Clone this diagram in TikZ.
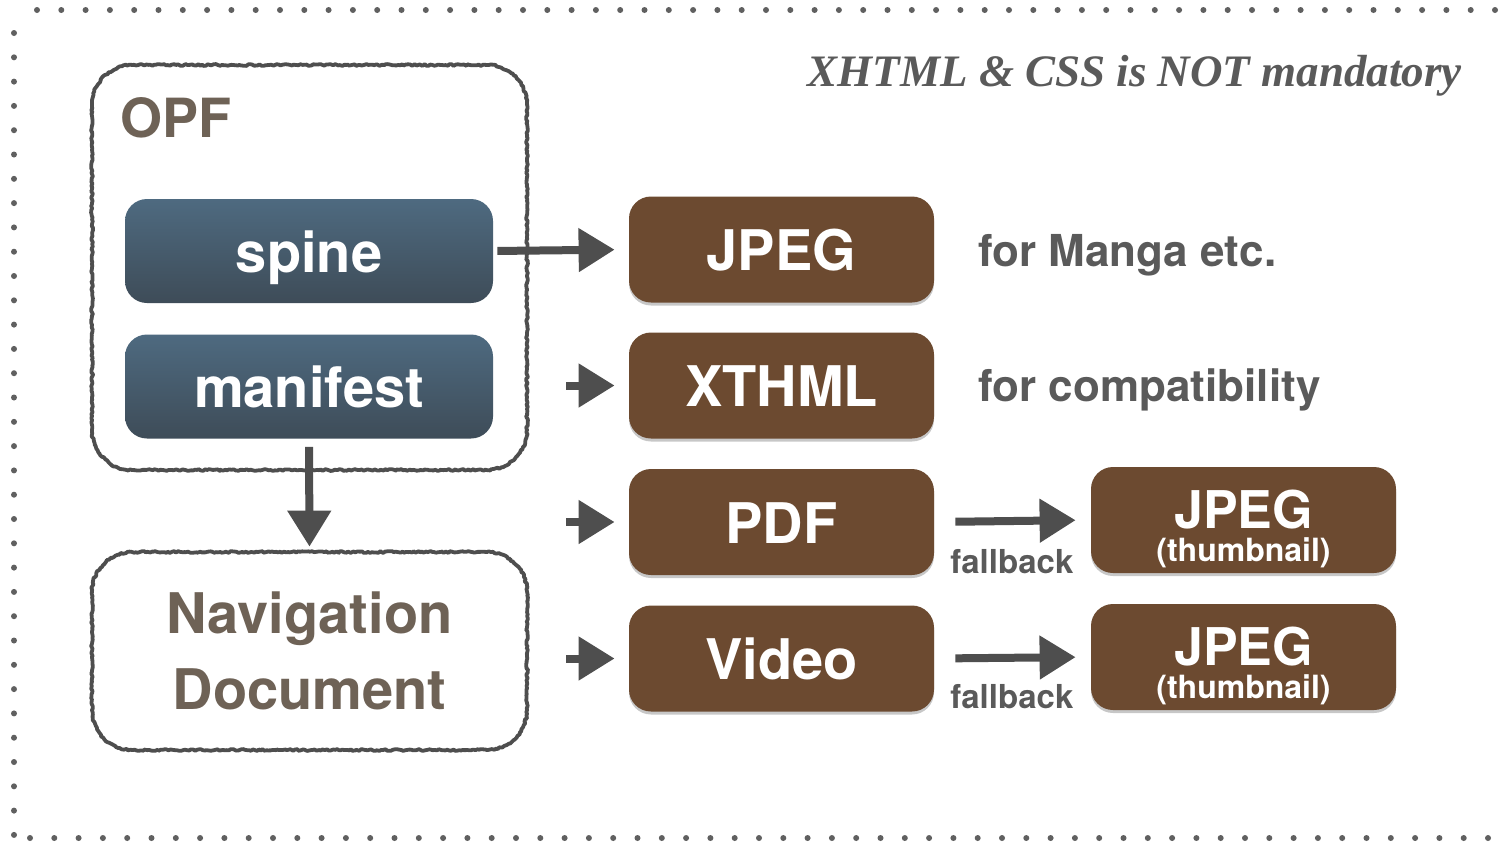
\documentclass[tikz,border=0pt]{standalone}
\usepackage{fontspec}
\setmainfont{TeX Gyre Heros}
\newfontfamily\titlefont{Liberation Serif}
\usetikzlibrary{arrows.meta,decorations.pathmorphing,shadows,calc}
\definecolor{sketchgray}{RGB}{78,78,78}
\definecolor{arrowgray}{RGB}{78,78,78}
\definecolor{opfbrown}{RGB}{110,98,86}
\definecolor{textgray}{RGB}{90,90,90}
\definecolor{woodbrown}{RGB}{108,74,48}
\definecolor{bluetop}{RGB}{78,106,128}
\definecolor{bluebot}{RGB}{62,76,88}
\definecolor{dotgray}{RGB}{96,96,96}
\newcommand\thumbtxt{\vbox{%
  \hbox to 90pt{\hss\rule{0pt}{27.5pt}\smash{\fontsize{26}{26}\selectfont JPEG}\hss}%
  \nointerlineskip
  \hbox to 90pt{\hss\rule[-3pt]{0pt}{19.5pt}\smash{\fontsize{16}{16}\selectfont(thumbnail)}\hss}}}
\begin{document}
\pgfmathsetseed{7}
\begin{tikzpicture}[x=0.5pt,y=-0.5pt,
  dotline/.style={draw=dotgray,line width=3pt,line cap=round,dash pattern=on 0pt off 12.15pt},
  sketchline/.style={draw=sketchgray,line width=1.9pt,line join=round,
    decoration={random steps,segment length=1pt,amplitude=0.45pt}},
  plainbox/.style={inner sep=0pt},
  bluebox/.style={rounded corners=11pt,top color=bluetop,bottom color=bluebot,inner sep=0pt,
    minimum width=184pt,minimum height=52pt,text=white,
    font=\fontsize{28}{30}\selectfont\bfseries,text height=24pt,text depth=3pt},
  woodbox/.style={rounded corners=11pt,fill=woodbrown,inner sep=0pt,
    minimum width=152.5pt,minimum height=53pt,text=white,
    drop shadow={shadow xshift=0pt,shadow yshift=-1.5pt,opacity=0.22,fill=black}},
  bigtext/.style={font=\fontsize{28}{30}\selectfont\bfseries,text height=24pt,text depth=3pt},
  thumbtext/.style={font=\bfseries},
  sidetext/.style={anchor=base west,text=textgray,font=\fontsize{22}{24}\selectfont\bfseries,inner sep=0pt},
  fbtext/.style={anchor=base west,text=textgray,font=\fontsize{16.5}{18}\selectfont\bfseries,inner sep=0pt},
  skarrow/.style={draw=arrowgray,line width=4pt,-{Triangle[length=18pt,width=21pt]}}
]
\useasboundingbox (0,0) rectangle (1499,843);
\fill[white] (0,0) rectangle (1499,843);
% dotted frame
\draw[dotline] (37,10) -- (1499,10);
\draw[dotline] (14,33) -- (14,843);
\draw[dotline] (30,838) -- (1499,838);

% title
\node[anchor=base east,inner sep=0pt,text=textgray,font=\titlefont\fontsize{22.5}{26}\selectfont\bfseries\itshape]
  (title) at (1462,86) {XHTML \& CSS is NOT mandatory};

% OPF container (sketchy rounded frame)
\node[plainbox,minimum width=217.5pt,minimum height=202.5pt] (opf) at (309.5,267.5) {};
\draw[sketchline] decorate {(132,65) -- (487,65) .. controls (509,65) and (527,83) .. (527,105)
  -- (527,430) .. controls (527,452) and (509,470) .. (487,470)
  -- (132,470) .. controls (110,470) and (92,452) .. (92,430)
  -- (92,105) .. controls (92,83) and (110,65) .. (132,65)} -- cycle;
\node[anchor=base west,inner sep=0pt,text=opfbrown,font=\fontsize{27}{30}\selectfont\bfseries] (opflabel) at (120,137) {OPF};
\node[bluebox] (spine) at (309,251) {spine};
\node[bluebox] (manifest) at (309,386.5) {manifest};

% navigation document
\node[plainbox,minimum width=217.5pt,minimum height=99pt,align=center,text=opfbrown,
  font=\fontsize{28}{38}\selectfont\bfseries] (nav) at (309.5,651) {Navigation\\Document};
\draw[sketchline] decorate {(132,552) -- (487,552) .. controls (509,552) and (527,570) .. (527,592)
  -- (527,710) .. controls (527,732) and (509,750) .. (487,750)
  -- (132,750) .. controls (110,750) and (92,732) .. (92,710)
  -- (92,592) .. controls (92,570) and (110,552) .. (132,552)} -- cycle;

% media boxes
\node[woodbox,bigtext] (jpeg) at (781.5,249.5) {JPEG};
\node[woodbox,bigtext] (xthml) at (781.5,385.5) {XTHML};
\node[woodbox,bigtext] (pdf) at (781.5,522) {PDF};
\node[woodbox,bigtext] (video) at (781.5,658.5) {Video};
\node[woodbox,thumbtext] (thumbA) at (1243.5,520) {\thumbtxt};
\node[woodbox,thumbtext] (thumbB) at (1243.5,657) {\thumbtxt};

% side texts
\node[sidetext] (manga) at (978,266) {for Manga etc.};
\node[sidetext] (compat) at (978,401) {for compatibility};
\node[fbtext] (fbA) at (950,573) {fallback};
\node[fbtext] (fbB) at (950,708) {fallback};

% free ends of short arrows
\coordinate (sX) at (566,385.5);
\coordinate (sP) at (566,522);
\coordinate (sV) at (566,658.5);

% connectors
\draw[skarrow,shorten <=2pt,shorten >=7pt] (spine.east) -- (jpeg.west);
\draw[skarrow,shorten >=7pt] (sX) -- (xthml.west);
\draw[skarrow,shorten >=7pt] (sP) -- (pdf.west);
\draw[skarrow,shorten >=7pt] (sV) -- (video.west);
\draw[skarrow,shorten <=4pt,shorten >=2.5pt] (manifest.south) -- (nav.north);
\draw[skarrow,shorten <=10.5pt,shorten >=7.5pt] (pdf.east) -- (thumbA.west);
\draw[skarrow,shorten <=10.5pt,shorten >=7.5pt] (video.east) -- (thumbB.west);
\end{tikzpicture}
\end{document}
